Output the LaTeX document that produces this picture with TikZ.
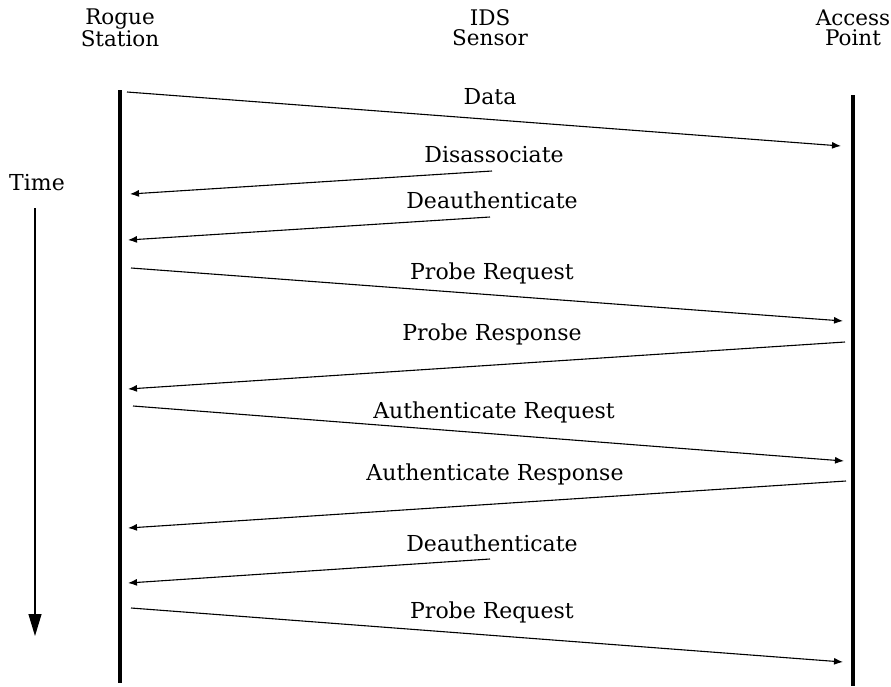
\documentclass[tikz,border=0pt]{standalone}
\usepackage{fontspec}
\setmainfont{DejaVu Serif}
\usetikzlibrary{arrows.meta}

\begin{document}
\begin{tikzpicture}[x=1pt,y=-1pt,
    life/.style={line width=4pt},
    msg/.style={line width=1.1pt,-{Latex[length=9pt,width=7pt]}},
    lbl/.style={font=\fontsize{22}{24}\selectfont},
    head/.style={font=\fontsize{21.5}{20}\selectfont,align=center}]
        \useasboundingbox (0,0) rectangle (891,686);

        \node[head] (rogue) at (120,28) {Rogue\\Station};
        \node[head] (ids) at (490,28) {IDS\\Sensor};
        \node[head] (ap) at (853,28) {Access\\Point};

        \coordinate (rtop) at (120,90);
        \coordinate (rbot) at (120,683);
        \coordinate (atop) at (853,95);
        \coordinate (abot) at (853,686);
        \draw[life] (rtop) -- (rbot);
        \draw[life] (atop) -- (abot);

        \node[lbl] (time) at (37,183) {Time};
        \coordinate (tstart) at (35,208);
        \coordinate (tend) at (35,636);
        \draw[line width=1.1pt,-{Triangle[length=22pt,width=13pt]}] (tstart) -- (tend);

        \coordinate (m1a) at (127,92);
        \coordinate (m1b) at (841,146);
        \draw[msg] (m1a) -- (m1b);
        \node[lbl] (data) at (490,97) {Data};

        \coordinate (m2a) at (492,171);
        \coordinate (m2b) at (130,194);
        \draw[msg] (m2a) -- (m2b);
        \node[lbl] (disassoc) at (494,155) {Disassociate};

        \coordinate (m3a) at (490,217);
        \coordinate (m3b) at (128,240);
        \draw[msg] (m3a) -- (m3b);
        \node[lbl] (deauth1) at (492,200) {Deauthenticate};

        \coordinate (m4a) at (131,268);
        \coordinate (m4b) at (843,321);
        \draw[msg] (m4a) -- (m4b);
        \node[lbl] (probereq1) at (492,273) {Probe Request};

        \coordinate (m5a) at (845,342);
        \coordinate (m5b) at (128,389);
        \draw[msg] (m5a) -- (m5b);
        \node[lbl] (proberesp) at (492,334) {Probe Response};

        \coordinate (m6a) at (133,406);
        \coordinate (m6b) at (844,461);
        \draw[msg] (m6a) -- (m6b);
        \node[lbl] (authreq) at (494,412) {Authenticate Request};

        \coordinate (m7a) at (846,481);
        \coordinate (m7b) at (128,528);
        \draw[msg] (m7a) -- (m7b);
        \node[lbl] (authresp) at (495,474) {Authenticate Response};

        \coordinate (m8a) at (490,559);
        \coordinate (m8b) at (128,583);
        \draw[msg] (m8a) -- (m8b);
        \node[lbl] (deauth2) at (492,543) {Deauthenticate};

        \coordinate (m9a) at (131,608);
        \coordinate (m9b) at (843,662);
        \draw[msg] (m9a) -- (m9b);
        \node[lbl] (probereq2) at (492,612) {Probe Request};

      \end{tikzpicture}
\end{document}
